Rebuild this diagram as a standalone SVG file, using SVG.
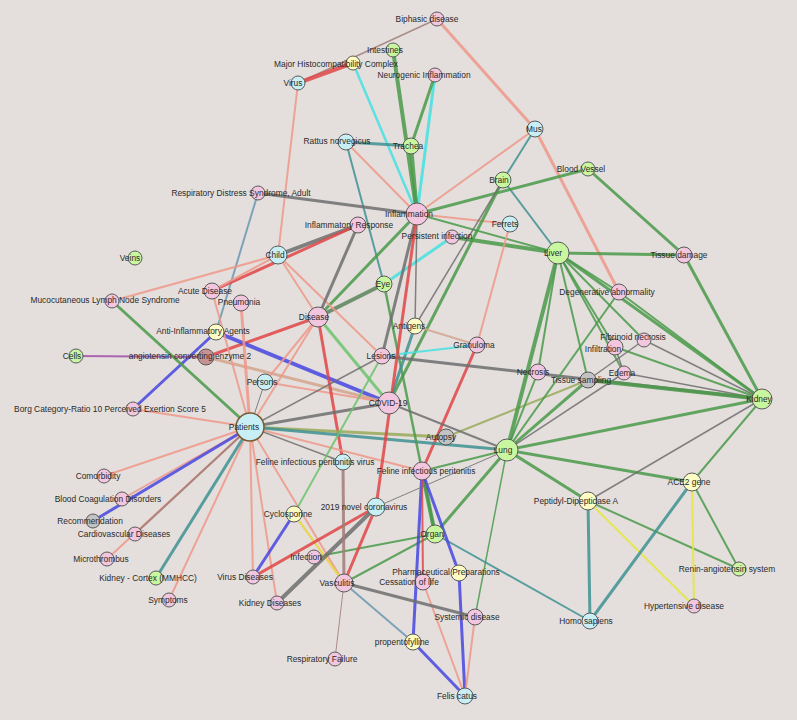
<svg xmlns="http://www.w3.org/2000/svg" width="797" height="720" viewBox="0 0 797 720">
<style>
.e{fill:none;stroke-opacity:0.85;stroke-linecap:butt}
.s{stroke:#ee9888}.r{stroke:#e04646}.g{stroke:#4a9a4a}.lg{stroke:#6cc46c}.t{stroke:#3e9292}
.c{stroke:#44e2e2}.b{stroke:#4646e0}.k{stroke:#6e6e6e}.y{stroke:#e6e63a}.o{stroke:#9aaa5a}
.sb{stroke:#6a98b0}.m{stroke:#a050a8}.tn{stroke:#d4a48c}.br{stroke:#a07c78}.dg{stroke:#5a845a}
.n circle{stroke:#5a5a5a;stroke-width:1}
.pk{fill:#f2c6de}.bl{fill:#c8eff6}.gr{fill:#c9f7a0}.yl{fill:#fdfcc2}.gy{fill:#c2c2c2}.bw{fill:#c89292}
text{font-family:"Liberation Sans",Arial,sans-serif;font-size:8.4px;fill:#2a2a2a;text-anchor:middle}
</style>
<rect width="797" height="720" fill="#e4dfdd"/>
<g id="edges">
<line class="e br" stroke-width="1.5" x1="298" y1="83" x2="437" y2="19"/>
<line class="e r" stroke-width="4" x1="298" y1="83" x2="353" y2="63"/>
<line class="e s" stroke-width="3" x1="437" y1="19" x2="535" y2="129"/>
<line class="e g" stroke-width="4" x1="393" y1="50" x2="417" y2="214"/>
<line class="e c" stroke-width="2.5" x1="353" y1="63" x2="417" y2="214"/>
<line class="e c" stroke-width="3" x1="435" y1="75" x2="417" y2="214"/>
<line class="e g" stroke-width="3" x1="435" y1="75" x2="411" y2="146"/>
<line class="e t" stroke-width="3" x1="346" y1="142" x2="411" y2="146"/>
<line class="e s" stroke-width="2" x1="346" y1="142" x2="417" y2="214"/>
<line class="e t" stroke-width="2" x1="346" y1="142" x2="384" y2="284"/>
<line class="e s" stroke-width="2" x1="535" y1="129" x2="417" y2="214"/>
<line class="e t" stroke-width="2" x1="535" y1="129" x2="503" y2="180"/>
<line class="e s" stroke-width="3" x1="535" y1="129" x2="619" y2="292"/>
<line class="e g" stroke-width="4" x1="411" y1="146" x2="417" y2="214"/>
<line class="e s" stroke-width="2" x1="298" y1="83" x2="278" y2="255"/>
<line class="e t" stroke-width="2" x1="503" y1="180" x2="558" y2="253"/>
<line class="e g" stroke-width="3" x1="417" y1="214" x2="588" y2="169"/>
<line class="e g" stroke-width="3" x1="588" y1="169" x2="684" y2="255"/>
<line class="e s" stroke-width="2" x1="417" y1="214" x2="510" y2="224"/>
<line class="e g" stroke-width="2" x1="417" y1="214" x2="558" y2="253"/>
<line class="e g" stroke-width="4" x1="452" y1="237" x2="558" y2="253"/>
<line class="e k" stroke-width="3" x1="258" y1="193" x2="417" y2="214"/>
<line class="e sb" stroke-width="2" x1="258" y1="193" x2="216" y2="332"/>
<line class="e s" stroke-width="2" x1="510" y1="224" x2="477" y2="345"/>
<line class="e r" stroke-width="3" x1="477" y1="345" x2="422" y2="471"/>
<line class="e c" stroke-width="3" x1="452" y1="237" x2="384" y2="284"/>
<line class="e g" stroke-width="3" x1="503" y1="180" x2="389" y2="403"/>
<line class="e g" stroke-width="3" x1="417" y1="214" x2="318" y2="317"/>
<line class="e dg" stroke-width="4" x1="384" y1="284" x2="318" y2="317"/>
<line class="e k" stroke-width="4" x1="278" y1="255" x2="358" y2="225"/>
<line class="e r" stroke-width="3" x1="212" y1="291" x2="358" y2="225"/>
<line class="e s" stroke-width="2" x1="212" y1="291" x2="278" y2="255"/>
<line class="e s" stroke-width="2" x1="112" y1="301" x2="278" y2="255"/>
<line class="e s" stroke-width="2" x1="278" y1="255" x2="318" y2="317"/>
<line class="e s" stroke-width="2" x1="278" y1="255" x2="382" y2="356"/>
<line class="e r" stroke-width="3" x1="206" y1="357" x2="318" y2="317"/>
<line class="e b" stroke-width="4" x1="216" y1="332" x2="389" y2="403"/>
<line class="e b" stroke-width="3" x1="216" y1="332" x2="133" y2="409"/>
<line class="e m" stroke-width="2" x1="76" y1="356" x2="206" y2="357"/>
<line class="e g" stroke-width="3" x1="112" y1="301" x2="250" y2="427"/>
<line class="e tn" stroke-width="3" x1="206" y1="357" x2="389" y2="403"/>
<line class="e s" stroke-width="2" x1="265" y1="382" x2="389" y2="403"/>
<line class="e s" stroke-width="2" x1="212" y1="291" x2="250" y2="427"/>
<line class="e s" stroke-width="3" x1="241" y1="303" x2="250" y2="427"/>
<line class="e s" stroke-width="2" x1="133" y1="409" x2="250" y2="427"/>
<line class="e s" stroke-width="2" x1="318" y1="317" x2="250" y2="427"/>
<line class="e s" stroke-width="2" x1="318" y1="317" x2="265" y2="382"/>
<line class="e lg" stroke-width="3" x1="318" y1="317" x2="389" y2="403"/>
<line class="e r" stroke-width="3" x1="318" y1="317" x2="343" y2="462"/>
<line class="e k" stroke-width="3" x1="358" y1="225" x2="318" y2="317"/>
<line class="e k" stroke-width="1" x1="265" y1="382" x2="250" y2="427"/>
<line class="e k" stroke-width="3" x1="250" y1="427" x2="389" y2="403"/>
<line class="e o" stroke-width="3" x1="250" y1="427" x2="446" y2="437"/>
<line class="e t" stroke-width="3" x1="250" y1="427" x2="507" y2="450"/>
<line class="e s" stroke-width="2" x1="250" y1="427" x2="422" y2="471"/>
<line class="e k" stroke-width="1.5" x1="250" y1="427" x2="343" y2="462"/>
<line class="e s" stroke-width="2" x1="250" y1="427" x2="344" y2="583"/>
<line class="e s" stroke-width="2" x1="250" y1="427" x2="253" y2="577"/>
<line class="e s" stroke-width="2" x1="250" y1="427" x2="277" y2="603"/>
<line class="e s" stroke-width="2" x1="250" y1="427" x2="169" y2="600"/>
<line class="e t" stroke-width="3" x1="250" y1="427" x2="156" y2="578"/>
<line class="e s" stroke-width="2" x1="250" y1="427" x2="107" y2="559"/>
<line class="e br" stroke-width="2" x1="250" y1="427" x2="135" y2="534"/>
<line class="e s" stroke-width="2" x1="250" y1="427" x2="122" y2="499"/>
<line class="e b" stroke-width="3" x1="250" y1="427" x2="93" y2="521"/>
<line class="e s" stroke-width="2" x1="250" y1="427" x2="104" y2="476"/>
<line class="e k" stroke-width="1.5" x1="250" y1="427" x2="382" y2="356"/>
<line class="e o" stroke-width="2" x1="446" y1="437" x2="588" y2="380"/>
<line class="e g" stroke-width="2.5" x1="384" y1="284" x2="435" y2="534"/>
<line class="e t" stroke-width="3" x1="415" y1="326" x2="389" y2="403"/>
<line class="e tn" stroke-width="2" x1="415" y1="326" x2="477" y2="345"/>
<line class="e k" stroke-width="1.5" x1="415" y1="326" x2="417" y2="214"/>
<line class="e k" stroke-width="1.5" x1="415" y1="326" x2="503" y2="180"/>
<line class="e k" stroke-width="3" x1="382" y1="356" x2="762" y2="399"/>
<line class="e c" stroke-width="2" x1="382" y1="356" x2="477" y2="345"/>
<line class="e k" stroke-width="3" x1="382" y1="356" x2="417" y2="214"/>
<line class="e g" stroke-width="4" x1="558" y1="253" x2="507" y2="450"/>
<line class="e g" stroke-width="3" x1="558" y1="253" x2="762" y2="399"/>
<line class="e g" stroke-width="2" x1="558" y1="253" x2="619" y2="292"/>
<line class="e g" stroke-width="2" x1="558" y1="253" x2="615" y2="347"/>
<line class="e g" stroke-width="2" x1="558" y1="253" x2="644" y2="340"/>
<line class="e g" stroke-width="2" x1="558" y1="253" x2="624" y2="373"/>
<line class="e g" stroke-width="2" x1="558" y1="253" x2="588" y2="380"/>
<line class="e g" stroke-width="2" x1="558" y1="253" x2="538" y2="372"/>
<line class="e g" stroke-width="3" x1="558" y1="253" x2="684" y2="255"/>
<line class="e g" stroke-width="3" x1="507" y1="450" x2="762" y2="399"/>
<line class="e g" stroke-width="3" x1="507" y1="450" x2="588" y2="380"/>
<line class="e g" stroke-width="2" x1="507" y1="450" x2="619" y2="292"/>
<line class="e k" stroke-width="1.5" x1="507" y1="450" x2="624" y2="373"/>
<line class="e g" stroke-width="2" x1="507" y1="450" x2="538" y2="372"/>
<line class="e g" stroke-width="3" x1="507" y1="450" x2="692" y2="482"/>
<line class="e g" stroke-width="3" x1="507" y1="450" x2="588" y2="501"/>
<line class="e g" stroke-width="2" x1="588" y1="501" x2="739" y2="569"/>
<line class="e g" stroke-width="3" x1="507" y1="450" x2="435" y2="534"/>
<line class="e k" stroke-width="2" x1="507" y1="450" x2="389" y2="403"/>
<line class="e g" stroke-width="2" x1="507" y1="450" x2="422" y2="471"/>
<line class="e g" stroke-width="1.5" x1="507" y1="450" x2="475" y2="617"/>
<line class="e g" stroke-width="2" x1="762" y1="399" x2="692" y2="482"/>
<line class="e g" stroke-width="3" x1="762" y1="399" x2="684" y2="255"/>
<line class="e g" stroke-width="2" x1="762" y1="399" x2="619" y2="292"/>
<line class="e k" stroke-width="1.5" x1="762" y1="399" x2="644" y2="340"/>
<line class="e g" stroke-width="2" x1="762" y1="399" x2="615" y2="347"/>
<line class="e k" stroke-width="1.5" x1="762" y1="399" x2="624" y2="373"/>
<line class="e g" stroke-width="4" x1="762" y1="399" x2="588" y2="380"/>
<line class="e k" stroke-width="1.5" x1="762" y1="399" x2="588" y2="501"/>
<line class="e k" stroke-width="1.5" x1="588" y1="380" x2="644" y2="340"/>
<line class="e k" stroke-width="1.5" x1="615" y1="347" x2="624" y2="373"/>
<line class="e t" stroke-width="3" x1="588" y1="501" x2="590" y2="621"/>
<line class="e y" stroke-width="2" x1="588" y1="501" x2="694" y2="606"/>
<line class="e t" stroke-width="3" x1="692" y1="482" x2="590" y2="621"/>
<line class="e y" stroke-width="2" x1="692" y1="482" x2="694" y2="606"/>
<line class="e g" stroke-width="2" x1="692" y1="482" x2="739" y2="569"/>
<line class="e t" stroke-width="2" x1="435" y1="534" x2="590" y2="621"/>
<line class="e g" stroke-width="4" x1="422" y1="471" x2="435" y2="534"/>
<line class="e g" stroke-width="2" x1="314" y1="557" x2="435" y2="534"/>
<line class="e g" stroke-width="2" x1="344" y1="583" x2="435" y2="534"/>
<line class="e b" stroke-width="3" x1="422" y1="471" x2="459" y2="573"/>
<line class="e b" stroke-width="3" x1="422" y1="471" x2="413" y2="642"/>
<line class="e b" stroke-width="3" x1="413" y1="642" x2="465" y2="696"/>
<line class="e b" stroke-width="3" x1="459" y1="573" x2="465" y2="696"/>
<line class="e r" stroke-width="2" x1="422" y1="471" x2="423" y2="582"/>
<line class="e s" stroke-width="2" x1="423" y1="582" x2="465" y2="696"/>
<line class="e s" stroke-width="2" x1="475" y1="617" x2="465" y2="696"/>
<line class="e k" stroke-width="3" x1="344" y1="583" x2="475" y2="617"/>
<line class="e sb" stroke-width="2" x1="344" y1="583" x2="413" y2="642"/>
<line class="e s" stroke-width="2" x1="294" y1="514" x2="344" y2="583"/>
<line class="e y" stroke-width="2" x1="294" y1="514" x2="344" y2="583"/>
<line class="e b" stroke-width="3" x1="294" y1="514" x2="253" y2="577"/>
<line class="e lg" stroke-width="2" x1="294" y1="514" x2="382" y2="356"/>
<line class="e r" stroke-width="3" x1="376" y1="507" x2="253" y2="577"/>
<line class="e k" stroke-width="4" x1="376" y1="507" x2="277" y2="603"/>
<line class="e k" stroke-width="1" x1="376" y1="507" x2="507" y2="450"/>
<line class="e br" stroke-width="3" x1="343" y1="462" x2="344" y2="583"/>
<line class="e br" stroke-width="1" x1="344" y1="583" x2="335" y2="659"/>
<line class="e r" stroke-width="3" x1="417" y1="214" x2="376" y2="507"/>
<line class="e r" stroke-width="3" x1="376" y1="507" x2="344" y2="583"/>
</g>
<g id="nodes">
<g id="n-biphasic" class="n"><circle class="pk" cx="437" cy="19" r="7"/></g>
<g id="n-intestines" class="n"><circle class="gr" cx="393" cy="50" r="7"/></g>
<g id="n-mhc" class="n"><circle class="yl" cx="353" cy="63" r="7"/></g>
<g id="n-neuro" class="n"><circle class="pk" cx="435" cy="75" r="7"/></g>
<g id="n-virus" class="n"><circle class="bl" cx="298" cy="83" r="7"/></g>
<g id="n-mus" class="n"><circle class="bl" cx="535" cy="129" r="8"/></g>
<g id="n-rattus" class="n"><circle class="bl" cx="346" cy="142" r="8"/></g>
<g id="n-trachea" class="n"><circle class="gr" cx="411" cy="146" r="8"/></g>
<g id="n-bloodvessel" class="n"><circle class="gr" cx="588" cy="169" r="7"/></g>
<g id="n-brain" class="n"><circle class="gr" cx="503" cy="180" r="8"/></g>
<g id="n-rds" class="n"><circle class="pk" cx="258" cy="193" r="7"/></g>
<g id="n-inflammation" class="n"><circle class="pk" cx="417" cy="214" r="11"/></g>
<g id="n-ir" class="n"><circle class="pk" cx="358" cy="225" r="8"/></g>
<g id="n-ferrets" class="n"><circle class="bl" cx="510" cy="224" r="8"/></g>
<g id="n-pi" class="n"><circle class="pk" cx="452" cy="237" r="7"/></g>
<g id="n-liver" class="n"><circle class="gr" cx="558" cy="253" r="11"/></g>
<g id="n-tissuedamage" class="n"><circle class="pk" cx="684" cy="255" r="8"/></g>
<g id="n-child" class="n"><circle class="bl" cx="278" cy="255" r="9"/></g>
<g id="n-veins" class="n"><circle class="gr" cx="135" cy="258" r="7"/></g>
<g id="n-eye" class="n"><circle class="gr" cx="384" cy="284" r="8"/></g>
<g id="n-acute" class="n"><circle class="pk" cx="212" cy="291" r="8"/></g>
<g id="n-degen" class="n"><circle class="pk" cx="619" cy="292" r="8"/></g>
<g id="n-mlns" class="n"><circle class="pk" cx="112" cy="301" r="7"/></g>
<g id="n-pneumonia" class="n"><circle class="pk" cx="241" cy="303" r="8"/></g>
<g id="n-disease" class="n"><circle class="pk" cx="318" cy="317" r="10"/></g>
<g id="n-antigens" class="n"><circle class="yl" cx="415" cy="326" r="8"/></g>
<g id="n-aia" class="n"><circle class="yl" cx="216" cy="332" r="8"/></g>
<g id="n-fibrinoid" class="n"><circle class="pk" cx="644" cy="340" r="7"/></g>
<g id="n-granuloma" class="n"><circle class="pk" cx="477" cy="345" r="8"/></g>
<g id="n-infiltration" class="n"><circle class="pk" cx="615" cy="347" r="8"/></g>
<g id="n-lesions" class="n"><circle class="pk" cx="382" cy="356" r="8"/></g>
<g id="n-cells" class="n"><circle class="gr" cx="76" cy="356" r="7"/></g>
<g id="n-ace2" class="n"><circle class="bw" cx="206" cy="357" r="8"/></g>
<g id="n-necrosis" class="n"><circle class="pk" cx="538" cy="372" r="8"/></g>
<g id="n-edema" class="n"><circle class="pk" cx="624" cy="373" r="7"/></g>
<g id="n-tsampling" class="n"><circle class="gy" cx="588" cy="380" r="8"/></g>
<g id="n-persons" class="n"><circle class="bl" cx="265" cy="382" r="8"/></g>
<g id="n-kidney" class="n"><circle class="gr" cx="762" cy="399" r="10"/></g>
<g id="n-covid" class="n"><circle class="pk" cx="389" cy="403" r="11"/></g>
<g id="n-borg" class="n"><circle class="pk" cx="133" cy="409" r="7"/></g>
<g id="n-patients" class="n"><circle class="bl" cx="250" cy="427" r="14" style="stroke:#7c5a30;stroke-width:1.5"/></g>
<g id="n-autopsy" class="n"><circle class="gy" cx="446" cy="437" r="8"/></g>
<g id="n-lung" class="n"><circle class="gr" cx="507" cy="450" r="11"/></g>
<g id="n-fipv" class="n"><circle class="bl" cx="343" cy="462" r="8"/></g>
<g id="n-fip" class="n"><circle class="pk" cx="422" cy="471" r="9"/></g>
<g id="n-comorbidity" class="n"><circle class="pk" cx="104" cy="476" r="7"/></g>
<g id="n-ace2gene" class="n"><circle class="yl" cx="692" cy="482" r="9"/></g>
<g id="n-bcd" class="n"><circle class="pk" cx="122" cy="499" r="7"/></g>
<g id="n-pda" class="n"><circle class="yl" cx="588" cy="501" r="9"/></g>
<g id="n-ncov" class="n"><circle class="bl" cx="376" cy="507" r="9"/></g>
<g id="n-cyclo" class="n"><circle class="yl" cx="294" cy="514" r="8"/></g>
<g id="n-recom" class="n"><circle class="gy" cx="93" cy="521" r="7"/></g>
<g id="n-cvd" class="n"><circle class="pk" cx="135" cy="534" r="7"/></g>
<g id="n-organ" class="n"><circle class="gr" cx="435" cy="534" r="9"/></g>
<g id="n-infection" class="n"><circle class="pk" cx="314" cy="557" r="7"/></g>
<g id="n-microthrombus" class="n"><circle class="pk" cx="107" cy="559" r="7"/></g>
<g id="n-renin" class="n"><circle class="gr" cx="739" cy="569" r="7"/></g>
<g id="n-pharm" class="n"><circle class="yl" cx="459" cy="573" r="8"/></g>
<g id="n-vdiseases" class="n"><circle class="pk" cx="253" cy="577" r="7"/></g>
<g id="n-kcortex" class="n"><circle class="gr" cx="156" cy="578" r="7"/></g>
<g id="n-cessation" class="n"><circle class="pk" cx="423" cy="582" r="8"/></g>
<g id="n-vasculitis" class="n"><circle class="pk" cx="344" cy="583" r="9"/></g>
<g id="n-symptoms" class="n"><circle class="pk" cx="169" cy="600" r="7"/></g>
<g id="n-kdiseases" class="n"><circle class="pk" cx="277" cy="603" r="7"/></g>
<g id="n-hypertensive" class="n"><circle class="pk" cx="694" cy="606" r="7"/></g>
<g id="n-systemic" class="n"><circle class="pk" cx="475" cy="617" r="8"/></g>
<g id="n-homo" class="n"><circle class="bl" cx="590" cy="621" r="8"/></g>
<g id="n-propento" class="n"><circle class="yl" cx="413" cy="642" r="8"/></g>
<g id="n-rf" class="n"><circle class="pk" cx="335" cy="659" r="7"/></g>
<g id="n-felis" class="n"><circle class="bl" cx="465" cy="696" r="8"/></g>
</g>
<g id="labels">
<text x="427" y="22">Biphasic disease</text>
<text x="385" y="53">Intestines</text>
<text x="336" y="67">Major Histocompatibility Complex</text>
<text x="424" y="78">Neurogenic Inflammation</text>
<text x="293" y="86">Virus</text>
<text x="534" y="132">Mus</text>
<text x="337" y="144">Rattus norvegicus</text>
<text x="408" y="149">Trachea</text>
<text x="581" y="172">Blood Vessel</text>
<text x="499" y="183">Brain</text>
<text x="241" y="196">Respiratory Distress Syndrome, Adult</text>
<text x="409" y="217">Inflammation</text>
<text x="349" y="228">Inflammatory Response</text>
<text x="505" y="227">Ferrets</text>
<text x="437" y="239">Persistent infection</text>
<text x="553" y="256">Liver</text>
<text x="679" y="258">Tissue damage</text>
<text x="275" y="258">Child</text>
<text x="130" y="261">Veins</text>
<text x="383" y="287">Eye</text>
<text x="205" y="294">Acute Disease</text>
<text x="607" y="295">Degenerative abnormality</text>
<text x="105" y="303">Mucocutaneous Lymph Node Syndrome</text>
<text x="239" y="305">Pneumonia</text>
<text x="314" y="320">Disease</text>
<text x="409" y="329">Antigens</text>
<text x="203" y="334">Anti-Inflammatory Agents</text>
<text x="633" y="340">Fibrinoid necrosis</text>
<text x="474" y="348">Granuloma</text>
<text x="603" y="352">Infiltration</text>
<text x="381" y="359">Lesions</text>
<text x="72" y="359">Cells</text>
<text x="190" y="359">angiotensin converting enzyme 2</text>
<text x="533" y="375">Necrosis</text>
<text x="622" y="376">Edema</text>
<text x="581" y="383">Tissue sampling</text>
<text x="262" y="385">Persons</text>
<text x="759" y="402">Kidney</text>
<text x="388" y="406">COVID-19</text>
<text x="110" y="412">Borg Category-Ratio 10 Perceived Exertion Score 5</text>
<text x="244" y="430">Patients</text>
<text x="441" y="440">Autopsy</text>
<text x="503" y="453">Lung</text>
<text x="315" y="465">Feline infectious peritonitis virus</text>
<text x="426" y="474">Feline infectious peritonitis</text>
<text x="98" y="479">Comorbidity</text>
<text x="689" y="485">ACE2 gene</text>
<text x="108" y="502">Blood Coagulation Disorders</text>
<text x="576" y="504">Peptidyl-Dipeptidase A</text>
<text x="364" y="510">2019 novel coronavirus</text>
<text x="288" y="517">Cyclosporine</text>
<text x="90" y="524">Recommendation</text>
<text x="124" y="537">Cardiovascular Diseases</text>
<text x="432" y="537">Organ</text>
<text x="306" y="560">Infection</text>
<text x="101" y="562">Microthrombus</text>
<text x="727" y="572">Renin-angiotensin system</text>
<text x="446" y="575">Pharmaceutical Preparations</text>
<text x="245" y="580">Virus Diseases</text>
<text x="148" y="581">Kidney - Cortex (MMHCC)</text>
<text x="409" y="585">Cessation of life</text>
<text x="337" y="586">Vasculitis</text>
<text x="168" y="603">Symptoms</text>
<text x="270" y="606">Kidney Diseases</text>
<text x="684" y="609">Hypertensive disease</text>
<text x="467" y="620">Systemic disease</text>
<text x="586" y="624">Homo sapiens</text>
<text x="402" y="645">propentofylline</text>
<text x="322" y="662">Respiratory Failure</text>
<text x="457" y="699">Felis catus</text>
</g>
</svg>
